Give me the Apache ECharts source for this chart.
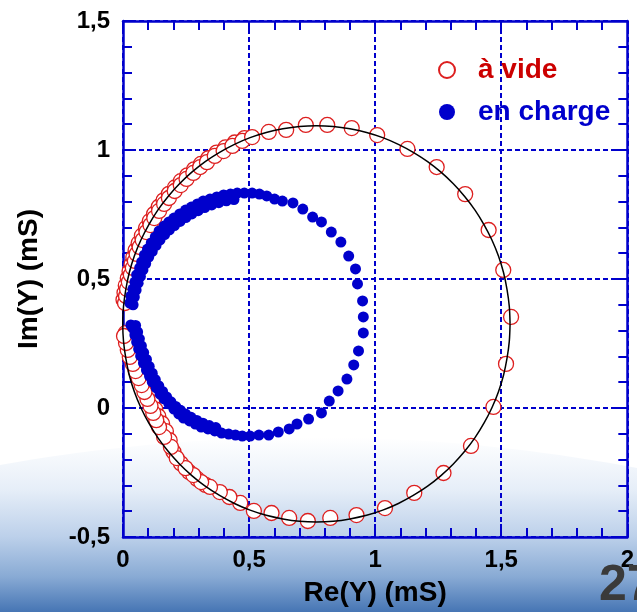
<!DOCTYPE html>
<html>
<head>
<meta charset="utf-8">
<script src="https://cdn.jsdelivr.net/npm/echarts@6/dist/echarts.min.js"></script>
<style>html,body{margin:0;padding:0;background:#fff;}#c{width:637px;height:612px;}</style>
</head>
<body>
<div id="c"></div>
<script>
// ---- data (mS) ----
const xTicks = [0, 0.5, 1, 1.5, 2];
const yTicks = [-0.5, 0, 0.5, 1, 1.5];
// "à vide" (open red circles), main trace
const avideRe = [0.008,0.012,0.016,0.023,0.031,0.039,0.047,0.054,0.066,0.078,0.093,0.109,0.124,0.143,0.163,0.182,0.205,0.229,0.252,0.279,0.306,0.333,0.364,0.399,0.434,0.473,0.512,0.578,0.647,0.725,0.810,0.907,1.008,1.128,1.244,1.357,1.450,1.508,1.539,1.519,1.469,1.380,1.271,1.155,1.039,0.926,0.822,0.733,0.659,0.589,0.519,0.465,0.422,0.384,0.345,0.310,0.279,0.248,0.213,0.190,0.163,0.143,0.132,0.120,0.109,0.097,0.085,0.074,0.062,0.050,0.039,0.027,0.019,0.012,0.004,-0.004];
const avideIm = [0.407,0.434,0.461,0.488,0.516,0.543,0.570,0.597,0.624,0.651,0.682,0.709,0.736,0.764,0.791,0.814,0.841,0.864,0.888,0.911,0.934,0.953,0.977,0.996,1.016,1.035,1.050,1.070,1.078,1.097,1.097,1.085,1.058,1.004,0.934,0.829,0.690,0.535,0.353,0.171,0.004,-0.147,-0.252,-0.329,-0.388,-0.415,-0.426,-0.438,-0.426,-0.407,-0.399,-0.368,-0.345,-0.326,-0.306,-0.287,-0.260,-0.233,-0.194,-0.151,-0.112,-0.074,-0.047,-0.019,0.008,0.035,0.062,0.089,0.116,0.143,0.171,0.198,0.225,0.252,0.279,0.302];
// "à vide", dense low-frequency points (second row)
const avideRe2 = [0.002,0.006,0.011,0.019,0.026,0.034,0.041,0.050,0.062,0.075,0.091,0.106,0.123,0.142,0.161,0.182,0.206,0.229,0.255,0.282,0.309,0.338,0.371,0.406,0.443,0.482,0.010,0.018,0.025,0.034,0.044,0.056,0.068,0.080,0.092,0.104,0.116,0.128,0.140,0.155,0.170,0.185,0.200,0.230,0.262,0.294,0.327];
const avideIm2 = [0.420,0.447,0.475,0.503,0.530,0.557,0.584,0.611,0.639,0.668,0.697,0.724,0.752,0.780,0.805,0.830,0.855,0.879,0.902,0.925,0.946,0.968,0.990,1.010,1.029,1.046,0.290,0.265,0.238,0.212,0.185,0.158,0.130,0.103,0.076,0.049,0.022,-0.005,-0.032,-0.060,-0.090,-0.125,-0.170,-0.215,-0.248,-0.275,-0.298];
// "en charge" (filled blue dots), main trace
const chargeRe = [0.027,0.031,0.039,0.047,0.054,0.066,0.074,0.085,0.097,0.112,0.128,0.143,0.163,0.182,0.202,0.225,0.248,0.271,0.295,0.318,0.345,0.372,0.399,0.426,0.453,0.481,0.512,0.541,0.570,0.601,0.632,0.674,0.713,0.752,0.787,0.826,0.864,0.895,0.922,0.930,0.950,0.953,0.953,0.934,0.915,0.888,0.853,0.818,0.787,0.736,0.690,0.659,0.616,0.578,0.539,0.504,0.473,0.446,0.419,0.391,0.364,0.337,0.310,0.287,0.264,0.240,0.221,0.202,0.182,0.163,0.147,0.132,0.116,0.105,0.093,0.081,0.070,0.062,0.054,0.047,0.039,0.031];
const chargeIm = [0.407,0.434,0.461,0.488,0.516,0.543,0.566,0.593,0.616,0.640,0.663,0.686,0.705,0.721,0.736,0.752,0.767,0.779,0.791,0.802,0.810,0.818,0.826,0.829,0.833,0.833,0.833,0.829,0.822,0.810,0.802,0.795,0.771,0.740,0.721,0.682,0.643,0.589,0.539,0.481,0.415,0.353,0.291,0.221,0.167,0.112,0.066,0.027,-0.019,-0.043,-0.062,-0.081,-0.093,-0.105,-0.105,-0.109,-0.109,-0.105,-0.101,-0.097,-0.089,-0.081,-0.074,-0.062,-0.050,-0.039,-0.023,-0.004,0.016,0.035,0.054,0.078,0.101,0.124,0.147,0.174,0.202,0.229,0.256,0.283,0.310,0.322];
// "en charge", dense low-frequency points (second row)
const chargeRe2 = [0.040,0.045,0.052,0.060,0.069,0.079,0.090,0.102,0.116,0.131,0.147,0.165,0.184,0.204,0.226,0.249,0.273,0.298,0.324,0.352,0.380,0.410,0.440,0.050,0.058,0.065,0.073,0.082,0.093,0.104,0.116,0.128,0.142,0.157,0.173,0.190,0.209,0.228,0.248,0.270,0.293,0.317,0.342,0.368];
const chargeIm2 = [0.400,0.430,0.457,0.484,0.510,0.535,0.560,0.585,0.607,0.630,0.652,0.672,0.690,0.707,0.723,0.738,0.752,0.765,0.777,0.787,0.796,0.803,0.808,0.320,0.295,0.268,0.241,0.215,0.188,0.161,0.135,0.110,0.086,0.064,0.043,0.024,0.006,-0.009,-0.023,-0.036,-0.048,-0.059,-0.068,-0.076];
// fitted circle (black line)
const fitRe = [1.535,1.532,1.523,1.509,1.489,1.463,1.432,1.396,1.355,1.310,1.261,1.208,1.151,1.092,1.030,0.966,0.900,0.834,0.767,0.700,0.634,0.568,0.504,0.442,0.383,0.326,0.273,0.224,0.179,0.138,0.102,0.071,0.045,0.025,0.011,0.002,-0.001,0.002,0.011,0.025,0.045,0.071,0.102,0.138,0.179,0.224,0.273,0.326,0.383,0.442,0.504,0.568,0.634,0.700,0.767,0.834,0.900,0.966,1.030,1.092,1.151,1.208,1.261,1.310,1.355,1.396,1.432,1.463,1.489,1.509,1.523,1.532,1.535];
const fitIm = [0.326,0.393,0.459,0.525,0.589,0.651,0.710,0.767,0.820,0.869,0.914,0.955,0.991,1.022,1.048,1.068,1.082,1.091,1.094,1.091,1.082,1.068,1.048,1.022,0.991,0.955,0.914,0.869,0.820,0.767,0.710,0.651,0.589,0.525,0.459,0.393,0.326,0.259,0.193,0.127,0.063,0.001,-0.058,-0.115,-0.168,-0.217,-0.262,-0.303,-0.339,-0.370,-0.396,-0.416,-0.430,-0.439,-0.442,-0.439,-0.430,-0.416,-0.396,-0.370,-0.339,-0.303,-0.262,-0.217,-0.168,-0.115,-0.058,0.001,0.063,0.127,0.193,0.259,0.326];
const seriesNames = ['à vide', 'en charge'];
const xName = 'Re(Y) (mS)';
const yName = 'Im(Y) (mS)';
const pageNumber = '27';

const zip = (a, b) => a.map((v, i) => [v, b[i]]);
const FONT = '"Liberation Sans", Arial, sans-serif';
const BLUE = '#0000cc';
const RED = '#dd1f1f';
const fmt = v => String(v).replace('.', ',');

const chart = echarts.init(document.getElementById('c'), null, {renderer: 'canvas'});

// background slide band (decoration)
const bandPts = [];
for (let i = 0; i <= 40; i++) {
  const t = i / 40;
  const x = 2 * (1 - t) * t * 320 + t * t * 637;
  const y = (1 - t) * (1 - t) * 465 + 2 * (1 - t) * t * 408 + t * t * 468;
  bandPts.push([x, y]);
}
bandPts.push([637, 612], [0, 612]);

function sideAxis(pos, isX, main) {
  const ax = {
    type: 'value', position: pos, min: isX ? xTicks[0] : yTicks[0], max: isX ? xTicks[xTicks.length-1] : yTicks[yTicks.length-1],
    interval: 0.5,
    axisLine: {show: true, onZero: false, lineStyle: {color: BLUE, width: 2.5}},
    axisTick: {show: true, inside: true, length: 13, lineStyle: {color: BLUE, width: 2}},
    minorTick: {show: true, splitNumber: 5, length: 9, lineStyle: {color: BLUE, width: 2}},
    splitLine: {show: main, lineStyle: {color: BLUE, width: 2, type: [5, 3]}},
    minorSplitLine: {show: false},
    axisLabel: {show: main, formatter: fmt, color: '#000', fontSize: 24, fontWeight: 'bold', fontFamily: FONT, margin: isX ? 11 : 13,
      showMinLabel: true, showMaxLabel: true},
  };
  if (main) {
    ax.name = isX ? xName : yName;
    ax.nameLocation = 'middle';
    ax.nameGap = isX ? 42 : 80;
    ax.nameTextStyle = {color: '#000', fontSize: 28, fontWeight: 'bold', fontFamily: FONT};
  }
  return ax;
}

chart.setOption({
  backgroundColor: '#ffffff',
  animation: false,
  grid: {left: 123, top: 21, width: 516, height: 516, containLabel: false},
  graphic: [
    {type: 'polygon', z: -10, silent: true, shape: {points: bandPts},
     style: {fill: new echarts.graphic.LinearGradient(0, 0, 0, 1, [
       {offset: 0, color: '#ffffff'}, {offset: 0.3, color: '#e6eef8'}, {offset: 0.57, color: '#bcd0ea'},
       {offset: 0.8, color: '#88aad4'}, {offset: 1, color: '#4675b4'}])}},
    {type: 'text', z: 100, left: 599, top: 561, silent: true,
     style: {text: pageNumber, fill: '#3a3a3a', font: 'bold 50px "Liberation Sans Narrow", "Liberation Sans", sans-serif'}}
  ],
  legend: {
    orient: 'vertical', left: 433, top: 51, itemWidth: 52, itemHeight: 16, itemGap: 14,
    textStyle: {fontSize: 28, fontWeight: 'bold', fontFamily: FONT, lineHeight: 28},
    data: [
      {name: seriesNames[0], icon: 'circle', textStyle: {color: '#cc0000'}},
      {name: seriesNames[1], icon: 'circle', textStyle: {color: BLUE}}
    ]
  },
  xAxis: [sideAxis('bottom', true, true), sideAxis('top', true, false)],
  yAxis: [sideAxis('left', false, true), sideAxis('right', false, false)],
  series: [
    {name: seriesNames[0], type: 'scatter', z: 2, symbol: 'circle', symbolSize: 15,
     itemStyle: {color: '#ffffff', borderColor: RED, borderWidth: 1.3, opacity: 1},
     data: zip(avideRe2, avideIm2).concat(zip(avideRe, avideIm))},
    {name: seriesNames[1], type: 'scatter', z: 3, symbol: 'circle', symbolSize: 11,
     itemStyle: {color: BLUE, opacity: 1},
     data: zip(chargeRe, chargeIm).concat(zip(chargeRe2, chargeIm2))},
    {name: 'fit', type: 'line', z: 4, showSymbol: false, smooth: 0.3, smoothMonotone: 'none',
     lineStyle: {color: '#000', width: 1.5}, data: zip(fitRe, fitIm)}
  ]
});
</script>
</body>
</html>
